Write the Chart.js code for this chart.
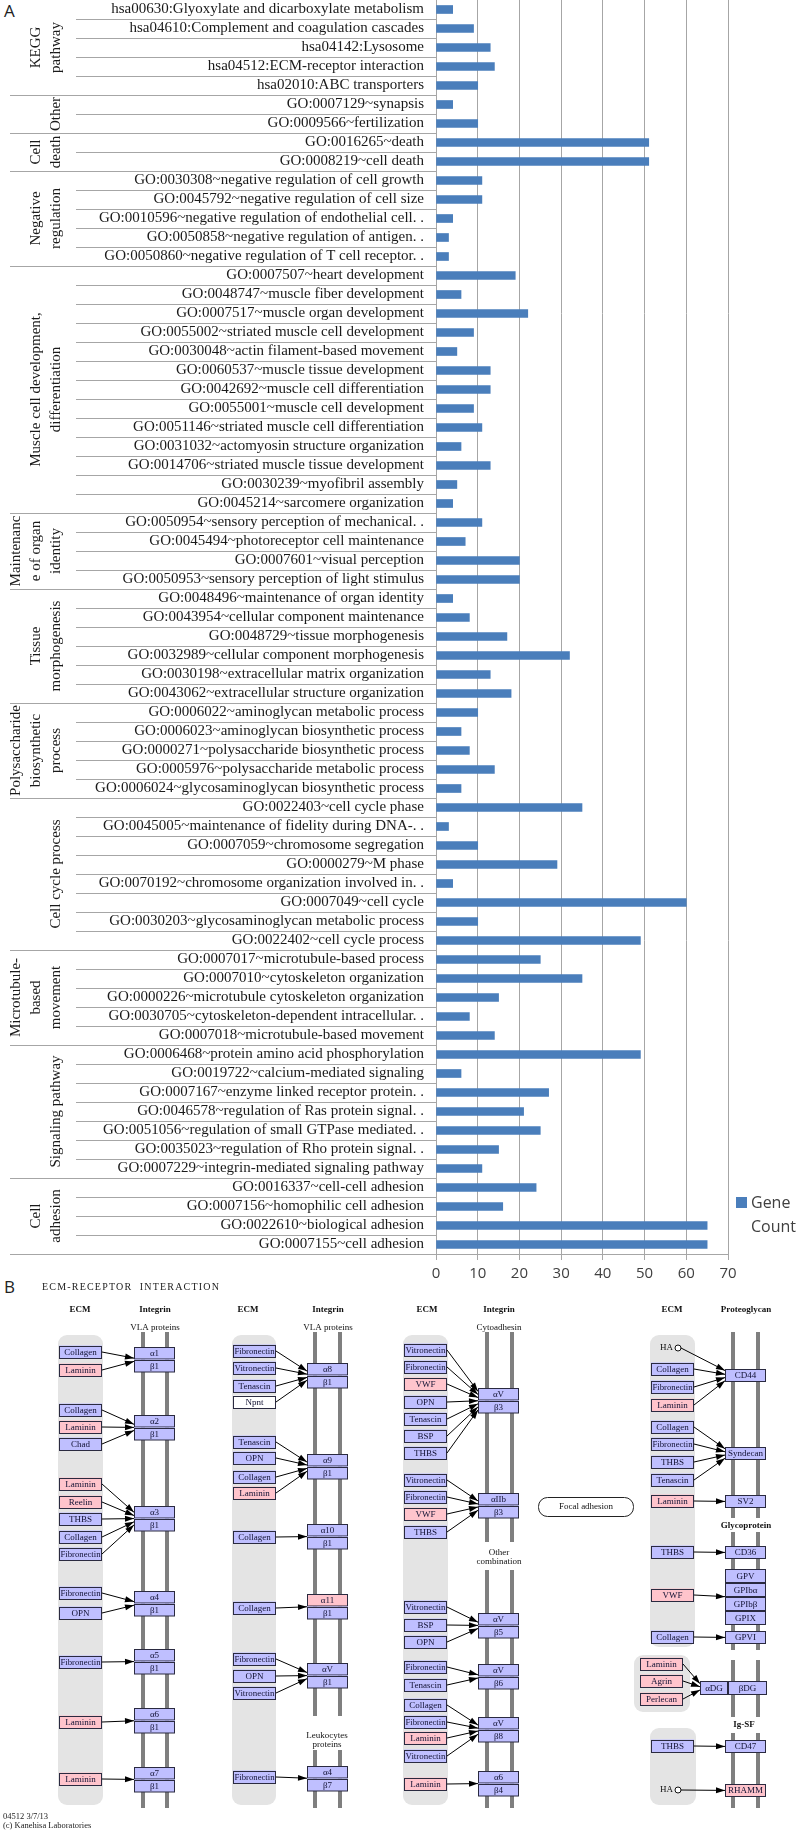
<!DOCTYPE html>
<html>
<head>
<meta charset="utf-8">
<script src="https://cdn.jsdelivr.net/npm/chart.js@4.4.0/dist/chart.umd.min.js"></script>
<style>
body{margin:0;background:#fff;width:800px;height:1831px;position:relative;overflow:hidden}
#chartA{position:absolute;left:0;top:0}
#panelB{position:absolute;left:0;top:1270px}
.tag{position:absolute;font:17px 'Open Sans','Noto Sans',sans-serif;color:#222;line-height:17px}
</style>
</head>
<body>
<div class="tag" style="left:4px;top:2px">A</div>
<div class="tag" style="left:4px;top:1278px">B</div>
<canvas id="chartA" width="800" height="1292"></canvas>
<canvas id="panelB" width="800" height="561"></canvas>
<script>
// ---- panel A data ----
var labels = [
    'hsa00630:Glyoxylate and dicarboxylate metabolism',
    'hsa04610:Complement and coagulation cascades',
    'hsa04142:Lysosome',
    'hsa04512:ECM-receptor interaction',
    'hsa02010:ABC transporters',
    'GO:0007129~synapsis',
    'GO:0009566~fertilization',
    'GO:0016265~death',
    'GO:0008219~cell death',
    'GO:0030308~negative regulation of cell growth',
    'GO:0045792~negative regulation of cell size',
    'GO:0010596~negative regulation of endothelial cell. .',
    'GO:0050858~negative regulation of antigen. .',
    'GO:0050860~negative regulation of T cell receptor. .',
    'GO:0007507~heart development',
    'GO:0048747~muscle fiber development',
    'GO:0007517~muscle organ development',
    'GO:0055002~striated muscle cell development',
    'GO:0030048~actin filament-based movement',
    'GO:0060537~muscle tissue development',
    'GO:0042692~muscle cell differentiation',
    'GO:0055001~muscle cell development',
    'GO:0051146~striated muscle cell differentiation',
    'GO:0031032~actomyosin structure organization',
    'GO:0014706~striated muscle tissue development',
    'GO:0030239~myofibril assembly',
    'GO:0045214~sarcomere organization',
    'GO:0050954~sensory perception of mechanical. .',
    'GO:0045494~photoreceptor cell maintenance',
    'GO:0007601~visual perception',
    'GO:0050953~sensory perception of light stimulus',
    'GO:0048496~maintenance of organ identity',
    'GO:0043954~cellular component maintenance',
    'GO:0048729~tissue morphogenesis',
    'GO:0032989~cellular component morphogenesis',
    'GO:0030198~extracellular matrix organization',
    'GO:0043062~extracellular structure organization',
    'GO:0006022~aminoglycan metabolic process',
    'GO:0006023~aminoglycan biosynthetic process',
    'GO:0000271~polysaccharide biosynthetic process',
    'GO:0005976~polysaccharide metabolic process',
    'GO:0006024~glycosaminoglycan biosynthetic process',
    'GO:0022403~cell cycle phase',
    'GO:0045005~maintenance of fidelity during DNA-. .',
    'GO:0007059~chromosome segregation',
    'GO:0000279~M phase',
    'GO:0070192~chromosome organization involved in. .',
    'GO:0007049~cell cycle',
    'GO:0030203~glycosaminoglycan metabolic process',
    'GO:0022402~cell cycle process',
    'GO:0007017~microtubule-based process',
    'GO:0007010~cytoskeleton organization',
    'GO:0000226~microtubule cytoskeleton organization',
    'GO:0030705~cytoskeleton-dependent intracellular. .',
    'GO:0007018~microtubule-based movement',
    'GO:0006468~protein amino acid phosphorylation',
    'GO:0019722~calcium-mediated signaling',
    'GO:0007167~enzyme linked receptor protein. .',
    'GO:0046578~regulation of Ras protein signal. .',
    'GO:0051056~regulation of small GTPase mediated. .',
    'GO:0035023~regulation of Rho protein signal. .',
    'GO:0007229~integrin-mediated signaling pathway',
    'GO:0016337~cell-cell adhesion',
    'GO:0007156~homophilic cell adhesion',
    'GO:0022610~biological adhesion',
    'GO:0007155~cell adhesion'
];
var geneCount = [
    4, 9, 13, 14, 10,
    4, 10,
    51, 51,
    11, 11, 4, 3, 3,
    19, 6, 22, 9, 5, 13, 13, 9, 11, 6, 13, 5, 4,
    11, 7, 20, 20,
    4, 8, 17, 32, 13, 18,
    10, 6, 8, 14, 6,
    35, 3, 10, 29, 4, 60, 10, 49,
    25, 35, 15, 8, 14,
    49, 6, 27, 21, 25, 15, 11,
    24, 16, 65, 65
];
var groupNames = [
    ['KEGG', 'pathway'], ['Other'], ['Cell', 'death'], ['Negative', 'regulation'],
    ['Muscle cell development,', 'differentiation'], ['Maintenanc', 'e of organ', 'identity'],
    ['Tissue', 'morphogenesis'], ['Polysaccharide', 'biosynthetic', 'process'],
    ['Cell cycle process'], ['Microtubule-', 'based', 'movement'],
    ['Signaling pathway'], ['Cell', 'adhesion']
];
var groupSizes = [5, 2, 2, 5, 13, 4, 6, 5, 8, 5, 7, 4];
var xTicks = [0, 10, 20, 30, 40, 50, 60, 70];

var serif = "'Liberation Serif', 'Times New Roman', serif";
var sans = "'Open Sans', 'Noto Sans', sans-serif";
var barColor = '#4a7ebb';
var lineColor = '#a6a6a6';

// separators between rows / groups, rotated group names and the legend
var groupPlugin = {
    id: 'groupPlugin',
    afterDraw: function(chart){
        var ctx = chart.ctx, y = chart.scales.y, area = chart.chartArea;
        var half = (y.getPixelForValue(1) - y.getPixelForValue(0)) / 2;
        ctx.save();
        ctx.strokeStyle = lineColor;
        ctx.lineWidth = 1;
        var start = 0;
        for(var g=0; g<groupSizes.length; g++){
            var end = start + groupSizes[g] - 1;
            for(var i=start; i<=end; i++){
                var py = Math.round(y.getPixelForValue(i) + half) + 0.5;
                ctx.beginPath();
                ctx.moveTo(i==end ? 10 : 76, py);
                ctx.lineTo(area.left, py);
                ctx.stroke();
            }
            var cy = (y.getPixelForValue(start) + y.getPixelForValue(end)) / 2;
            var lines = groupNames[g];
            ctx.fillStyle = '#1a1a1a';
            ctx.font = '15px ' + serif;
            ctx.textAlign = 'center';
            ctx.textBaseline = 'middle';
            for(var k=0; k<lines.length; k++){
                var cx = 56 - (lines.length - 1 - k) * 20;
                ctx.save();
                ctx.translate(cx, cy);
                ctx.rotate(-Math.PI / 2);
                ctx.fillText(lines[k], 0, 0);
                ctx.restore();
            }
            start = end + 1;
        }
        // legend
        var lx = area.right + 8, ly = area.bottom - 57;
        ctx.fillStyle = barColor;
        ctx.fillRect(lx, ly, 11, 11);
        ctx.fillStyle = '#404040';
        ctx.font = '16px ' + sans;
        ctx.textAlign = 'left';
        ctx.fillText('Gene', lx + 15, ly + 6);
        ctx.fillText('Count', lx + 15, ly + 30);
        ctx.restore();
    }
};

new Chart(document.getElementById('chartA'), {
    type: 'bar',
    data: {
        labels: labels,
        datasets: [{
            label: 'Gene Count',
            data: geneCount,
            backgroundColor: barColor,
            barThickness: 8
        }]
    },
    options: {
        responsive: false,
        animation: false,
        indexAxis: 'y',
        layout: {padding: {top: 0, right: 72, bottom: 0, left: 0}},
        plugins: {legend: {display: false}, tooltip: {enabled: false}},
        scales: {
            x: {
                min: xTicks[0],
                max: xTicks[xTicks.length-1],
                afterBuildTicks: function(s){ s.ticks = xTicks.map(function(v){ return {value: v}; }); },
                ticks: {color: '#404040', font: {family: sans, size: 15}, padding: 5},
                grid: {color: lineColor, tickLength: 6},
                border: {color: lineColor},
                afterFit: function(s){ s.height = 38; s.paddingLeft = 0; s.paddingRight = 0; }
            },
            y: {
                grid: {display: false, drawTicks: false},
                border: {color: lineColor},
                ticks: {color: '#1a1a1a', font: {family: serif, size: 15}, padding: 12, autoSkip: false},
                afterFit: function(s){ s.width = 436; s.paddingTop = 0; s.paddingBottom = 0; }
            }
        }
    },
    plugins: [groupPlugin]
});

// ---- panel B: KEGG ECM-receptor interaction map ----
var cols = [[59, 134, 143, 167], [233, 307, 315, 340], [404, 478, 487, 512], [651, 725, 733, 758]];
var receptors = [
    {c:0, rows:['α1','β1'], y:1347, lig:[['Collagen',1352],['Laminin',1370,'p']]},
    {c:0, rows:['α2','β1'], y:1415, lig:[['Collagen',1410],['Laminin',1427,'p'],['Chad',1444]]},
    {c:0, rows:['α3','β1'], y:1506, lig:[['Laminin',1484,'p'],['Reelin',1502,'p'],['THBS',1519],['Collagen',1537],['Fibronectin',1554]]},
    {c:0, rows:['α4','β1'], y:1591, lig:[['Fibronectin',1593],['OPN',1613]]},
    {c:0, rows:['α5','β1'], y:1649, lig:[['Fibronectin',1662]]},
    {c:0, rows:['α6','β1'], y:1708, lig:[['Laminin',1722,'p']]},
    {c:0, rows:['α7','β1'], y:1767, lig:[['Laminin',1779,'p']]},
    {c:1, rows:['α8','β1'], y:1363, lig:[['Fibronectin',1351],['Vitronectin',1368],['Tenascin',1386],['Npnt',1402,'w']]},
    {c:1, rows:['α9','β1'], y:1454, lig:[['Tenascin',1442],['OPN',1458],['Collagen',1477],['Laminin',1493,'p']]},
    {c:1, rows:['α10','β1'], y:1524, lig:[['Collagen',1537]]},
    {c:1, rows:['α11','β1'], y:1594, pink:[0], lig:[['Collagen',1608]]},
    {c:1, rows:['αV','β1'], y:1663, lig:[['Fibronectin',1659],['OPN',1676],['Vitronectin',1693]]},
    {c:1, rows:['α4','β7'], y:1766, lig:[['Fibronectin',1777]]},
    {c:2, rows:['αV','β3'], y:1388, lig:[['Vitronectin',1350],['Fibronectin',1367],['VWF',1384,'p'],['OPN',1402],['Tenascin',1419],['BSP',1436],['THBS',1453]]},
    {c:2, rows:['αIIb','β3'], y:1493, lig:[['Vitronectin',1480],['Fibronectin',1497],['VWF',1514,'p'],['THBS',1532]]},
    {c:2, rows:['αV','β5'], y:1613, lig:[['Vitronectin',1607],['BSP',1625],['OPN',1642]]},
    {c:2, rows:['αV','β6'], y:1664, lig:[['Fibronectin',1667],['Tenascin',1685]]},
    {c:2, rows:['αV','β8'], y:1717, lig:[['Collagen',1705],['Fibronectin',1722],['Laminin',1738,'p'],['Vitronectin',1756]]},
    {c:2, rows:['α6','β4'], y:1771, lig:[['Laminin',1784,'p']]},
    {c:3, rows:['CD44'], rh:13, y:1369, lig:[['HA',1348,'o'],['Collagen',1369],['Fibronectin',1387],['Laminin',1405,'p']]},
    {c:3, rows:['Syndecan'], rh:13, y:1447, lig:[['Collagen',1427],['Fibronectin',1444],['THBS',1462],['Tenascin',1480]]},
    {c:3, rows:['SV2'], rh:13, y:1495, lig:[['Laminin',1501,'p']]},
    {c:3, rows:['CD36'], rh:13, y:1546, lig:[['THBS',1552]]},
    {c:3, rows:['GPV','GPIbα','GPIbβ','GPIX'], rh:14, y:1569, lig:[['VWF',1595,'p']]},
    {c:3, rows:['GPVI'], rh:13, y:1631, lig:[['Collagen',1637]]},
    {c:3, rows:['αDG'], rh:14, y:1681, x:700, w:28, lx:640, lig:[['Laminin',1664,'p'],['Agrin',1681,'p'],['Perlecan',1699,'p']]},
    {c:3, rows:['βDG'], rh:14, y:1681, x:728, w:39, lig:[]},
    {c:3, rows:['CD47'], rh:13, y:1740, lig:[['THBS',1746]]},
    {c:3, rows:['RHAMM'], rh:13, y:1784, pink:[0], lig:[['HA',1790,'o']]}
];
var grayAreas = [[58,1335,45,470],[232,1335,44,470],[403,1335,45,470],[650,1335,45,312],[634,1655,56,57],[650,1728,46,77]];
var membranes = [
    [143,1332,1808],[167,1332,1808],
    [315,1332,1716],[340,1332,1716],[315,1750,1808],[340,1750,1808],
    [487,1332,1542],[512,1332,1542],[487,1570,1808],[512,1570,1808],
    [733,1332,1518],[758,1332,1518],[733,1532,1650],[758,1532,1650],
    [733,1660,1717],[758,1660,1717],[733,1733,1808],[758,1733,1808]
];
var headers = [['ECM',80],['Integrin',155],['ECM',248],['Integrin',328],['ECM',427],['Integrin',499],['ECM',672],['Proteoglycan',746]];
var notes = [['VLA proteins',155,1328],['VLA proteins',328,1328],['Cytoadhesin',499,1328],
    ['Leukocytes',327,1736],['proteins',327,1745],['Other',499,1553],['combination',499,1562]];
var boldNotes = [['Glycoprotein',746,1526],['Ig-SF',744,1725]];

function drawPanelB(){
    var cv = document.getElementById('panelB');
    var ctx = cv.getContext('2d');
    ctx.translate(0, -1270);
    var bF = serif;

    ctx.fillStyle = '#222';
    ctx.font = '10px ' + bF;
    ctx.letterSpacing = '1.2px';
    ctx.textBaseline = 'middle';
    ctx.fillText('ECM-RECEPTOR  INTERACTION', 42, 1287);
    ctx.letterSpacing = '0px';

    grayAreas.forEach(function(a){
        ctx.fillStyle = '#e4e4e4';
        ctx.beginPath();
        ctx.roundRect(a[0], a[1], a[2], a[3], 9);
        ctx.fill();
    });
    membranes.forEach(function(m){
        ctx.fillStyle = '#7f7f7f';
        ctx.fillRect(m[0] - 2, m[1], 4, m[2] - m[1]);
    });

    ctx.textAlign = 'center';
    ctx.fillStyle = '#111';
    ctx.font = 'bold 9px ' + bF;
    headers.forEach(function(h){ ctx.fillText(h[0], h[1], 1310); });
    boldNotes.forEach(function(h){ ctx.fillText(h[0], h[1], h[2]); });
    ctx.font = '9px ' + bF;
    notes.forEach(function(h){ ctx.fillText(h[0], h[1], h[2]); });

    function box(x, y, w, h, txt, fill){
        ctx.fillStyle = fill;
        ctx.fillRect(x, y, w, h);
        ctx.strokeStyle = '#2a2a40';
        ctx.lineWidth = 1;
        ctx.strokeRect(Math.round(x) + 0.5, Math.round(y) + 0.5, w - 1, h - 1);
        ctx.fillStyle = '#111133';
        ctx.font = '9px ' + bF;
        ctx.textAlign = 'center';
        ctx.fillText(txt, x + w / 2, y + h / 2 + 0.5, w - 3);
    }
    function arrow(x1, y1, x2, y2){
        ctx.strokeStyle = '#000';
        ctx.fillStyle = '#000';
        ctx.lineWidth = 1;
        ctx.beginPath(); ctx.moveTo(x1, y1); ctx.lineTo(x2, y2); ctx.stroke();
        var a = Math.atan2(y2 - y1, x2 - x1);
        ctx.beginPath();
        ctx.moveTo(x2, y2);
        ctx.lineTo(x2 - 9 * Math.cos(a) + 3 * Math.sin(a), y2 - 9 * Math.sin(a) - 3 * Math.cos(a));
        ctx.lineTo(x2 - 9 * Math.cos(a) - 3 * Math.sin(a), y2 - 9 * Math.sin(a) + 3 * Math.cos(a));
        ctx.closePath(); ctx.fill();
    }

    var lav = '#bfbfff', pink = '#ffc4cc';
    receptors.forEach(function(r){
        var col = cols[r.c];
        var rx = r.x || col[1], rw = r.w || 41, rh = r.rh || 12.5;
        var h = rh * r.rows.length;
        var cy = r.y + h / 2;
        var lx = r.lx || col[0];
        r.lig.forEach(function(l){
            var ty = cy + (l[1] - cy) * 0.18;
            if(l[2] == 'o'){
                ctx.fillStyle = '#111';
                ctx.font = '9px ' + bF;
                ctx.textAlign = 'right';
                ctx.fillText('HA', lx + 22, l[1]);
                ctx.beginPath(); ctx.arc(lx + 27, l[1], 3, 0, 2 * Math.PI);
                ctx.fillStyle = '#fff'; ctx.fill();
                ctx.strokeStyle = '#111'; ctx.stroke();
                arrow(lx + 30, l[1], rx, ty);
            } else {
                var f = l[2] == 'p' ? pink : (l[2] == 'w' ? '#fff' : lav);
                box(lx, l[1] - 6.5, 43, 13, l[0], f);
                arrow(lx + 43, l[1], rx, ty);
            }
        });
        r.rows.forEach(function(t, i){
            var f = (r.pink && r.pink.indexOf(i) >= 0) ? pink : lav;
            box(rx, r.y + i * rh, rw, rh, t, f);
        });
    });

    // focal adhesion link
    ctx.fillStyle = '#fff';
    ctx.strokeStyle = '#222';
    ctx.beginPath(); ctx.roundRect(538.5, 1497.5, 95, 19, 9); ctx.fill(); ctx.stroke();
    ctx.fillStyle = '#111';
    ctx.font = '9px ' + bF;
    ctx.textAlign = 'center';
    ctx.fillText('Focal adhesion', 586, 1507);

    ctx.textAlign = 'left';
    ctx.font = '8.5px ' + bF;
    ctx.fillStyle = '#222';
    ctx.fillText('04512 3/7/13', 3, 1817);
    ctx.fillText('(c) Kanehisa Laboratories', 3, 1826);
}
drawPanelB();
</script>
</body>
</html>
